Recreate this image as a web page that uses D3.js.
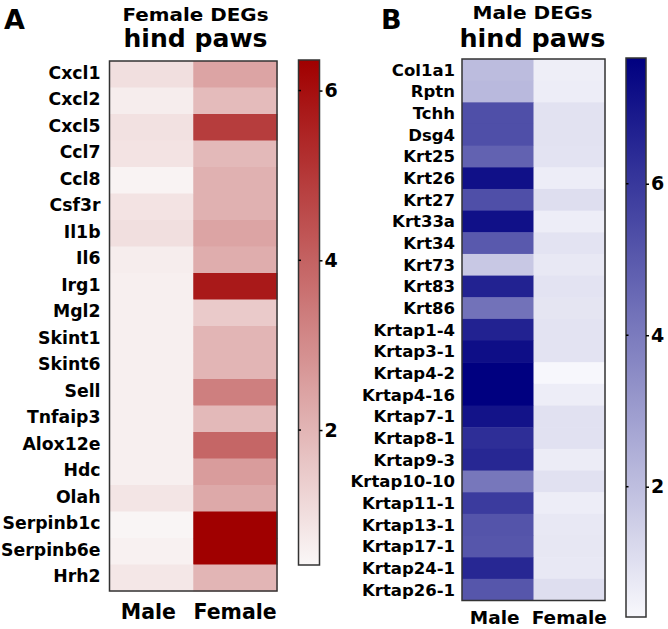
<!DOCTYPE html>
<html><head><meta charset="utf-8">
<script src="https://cdn.jsdelivr.net/npm/d3@7"></script>
<style>body{margin:0;background:#fff}text{font-family:"DejaVu Sans",Verdana,sans-serif;font-weight:bold;fill:#000}</style>
</head><body><svg id="c" width="668" height="629"></svg>
<script>
// ---- Data ----
const genesA = ["Cxcl1","Cxcl2","Cxcl5","Ccl7","Ccl8","Csf3r","Il1b","Il6","Irg1","Mgl2","Skint1","Skint6","Sell","Tnfaip3","Alox12e","Hdc","Olah","Serpinb1c","Serpinb6e","Hrh2"];
const maleA   = [1.0,0.65,0.95,0.9,0.5,0.9,1.0,0.65,0.6,0.6,0.6,0.6,0.6,0.6,0.6,0.6,0.85,0.45,0.55,0.8];
const femaleA = [2.4,1.85,4.9,1.9,2.1,2.1,2.4,2.2,5.75,1.5,2.0,2.0,3.3,1.9,3.9,2.6,2.3,6.36,6.36,2.0];
const genesB = ["Col1a1","Rptn","Tchh","Dsg4","Krt25","Krt26","Krt27","Krt33a","Krt34","Krt73","Krt83","Krt86","Krtap1-4","Krtap3-1","Krtap4-2","Krtap4-16","Krtap7-1","Krtap8-1","Krtap9-3","Krtap10-10","Krtap11-1","Krtap13-1","Krtap17-1","Krtap24-1","Krtap26-1"];
const maleB   = [2.07,2.15,5.3,5.3,4.75,7.18,5.3,7.18,5.0,1.7,6.65,4.27,6.65,7.25,7.66,7.66,7.1,6.3,6.5,4.12,5.9,5.15,5.1,6.5,5.1];
const femaleB = [0.58,0.6,0.93,0.93,0.9,0.6,1.05,0.6,0.9,0.75,0.9,0.85,0.9,0.9,0.3,0.6,0.95,0.95,0.65,0.95,0.6,0.75,0.8,0.75,1.05];
const columns = ["Male","Female"];
const ticks = [2,4,6];
const domainA = [0.41,6.36], domainB = [0.28,7.66];

const svg = d3.select("#c");
const defs = svg.append("defs");

function panel(o){
  const g = svg.append("g");
  const color = d3.scaleLinear().domain(o.domain).range(o.colors).interpolate(d3.interpolateRgb).clamp(true);
  const x = d3.scaleBand().domain(columns).range([o.x0,o.x1]);
  const y = d3.scaleBand().domain(o.genes).range([o.y0,o.y1]);
  const cells = [];
  o.genes.forEach((gn,i)=>{cells.push({c:"Male",g:gn,v:o.male[i]});cells.push({c:"Female",g:gn,v:o.female[i]});});
  g.selectAll("rect.cell").data(cells).join("rect")
    .attr("x",d=>x(d.c)).attr("y",d=>y(d.g))
    .attr("width",x.bandwidth()+0.5).attr("height",y.bandwidth()+0.5)
    .attr("fill",d=>color(d.v));
  g.append("rect").attr("x",o.x0).attr("y",o.y0).attr("width",o.x1-o.x0).attr("height",o.y1-o.y0)
    .attr("fill","none").attr("stroke","#333").attr("stroke-width",1.5);
  // row labels
  g.selectAll("text.row").data(o.genes).join("text")
    .attr("x",o.labelX).attr("y",d=>y(d)+y.bandwidth()/2).attr("dy",o.rowDy)
    .attr("text-anchor","end").style("font-size",o.rowFont).text(d=>d);
  // column labels
  g.selectAll("text.col").data(columns).join("text")
    .attr("x",d=>x(d)+x.bandwidth()/2+(d==="Male"?o.maleDx:0)).attr("y",o.colY)
    .attr("text-anchor","middle").style("font-size",o.colFont).text(d=>d);
  // titles
  const cx = o.tcx;
  g.append("text").attr("x",cx).attr("y",o.t1y).attr("text-anchor","middle").style("font-size","17.5px")
    .attr("textLength",o.t1w).attr("lengthAdjust","spacingAndGlyphs").text(o.title);
  g.append("text").attr("x",cx).attr("y",o.t2y).attr("text-anchor","middle").style("font-size","25px")
    .attr("textLength",o.t2w).attr("lengthAdjust","spacingAndGlyphs").text("hind paws");
  g.append("text").attr("x",o.letterX).attr("y",o.letterY).style("font-size","27px").text(o.letter);
  // colorbar
  const gid = "grad"+o.letter;
  const grad = defs.append("linearGradient").attr("id",gid).attr("x1",0).attr("y1",1).attr("x2",0).attr("y2",0);
  d3.range(0,1.0001,0.05).forEach(t=>{
    grad.append("stop").attr("offset",t).attr("stop-color",color(o.domain[0]+t*(o.domain[1]-o.domain[0])));
  });
  g.append("rect").attr("x",o.bx).attr("y",o.by0).attr("width",o.bw).attr("height",o.by1-o.by0)
    .attr("fill",`url(#${gid})`).attr("stroke","#333").attr("stroke-width",1.5);
  const ys = d3.scaleLinear().domain(o.domain).range([o.by1,o.by0]);
  const ax = g.append("g").attr("transform",`translate(${o.bx+o.bw},0)`)
    .call(d3.axisRight(ys).tickValues(ticks).tickSize(3).tickPadding(2).tickFormat(d3.format("d")));
  ax.select(".domain").remove();
  ax.selectAll("line").attr("stroke","#000").attr("stroke-width",1.5);
  ax.selectAll("text").style("font-size","19px").style("font-family","DejaVu Sans").style("font-weight","bold").attr("fill","#000");
  g.selectAll("line.inner").data(ticks).join("line")
    .attr("x1",o.bx).attr("x2",o.bx+2.5).attr("y1",d=>ys(d)).attr("y2",d=>ys(d))
    .attr("stroke","#000").attr("stroke-width",1.5);
}

panel({genes:genesA,male:maleA,female:femaleA,domain:domainA,colors:["#faf7f7","#a00000"],
  x0:109.5,x1:277,y0:61,y1:591,labelX:100.5,rowDy:"0.26em",rowFont:"17.3px",
  colY:619,colFont:"20.5px",maleDx:-3,title:"Female DEGs",tcx:195.5,t1y:21,t1w:146,t2y:47,t2w:144,
  letter:"A",letterX:4,letterY:29,bx:298.5,bw:21,by0:60,by1:565});
panel({genes:genesB,male:maleB,female:femaleB,domain:domainB,colors:["#f8f8fc","#000080"],
  x0:462,x1:605,y0:59,y1:600.5,labelX:455,rowDy:"0.36em",rowFont:"16.5px",
  colY:624,colFont:"18.5px",maleDx:-3,title:"Male DEGs",tcx:532.5,t1y:19,t1w:120,t2y:47,t2w:146,
  letter:"B",letterX:381,letterY:29,bx:626,bw:20,by0:58,by1:617});
</script></body></html>
